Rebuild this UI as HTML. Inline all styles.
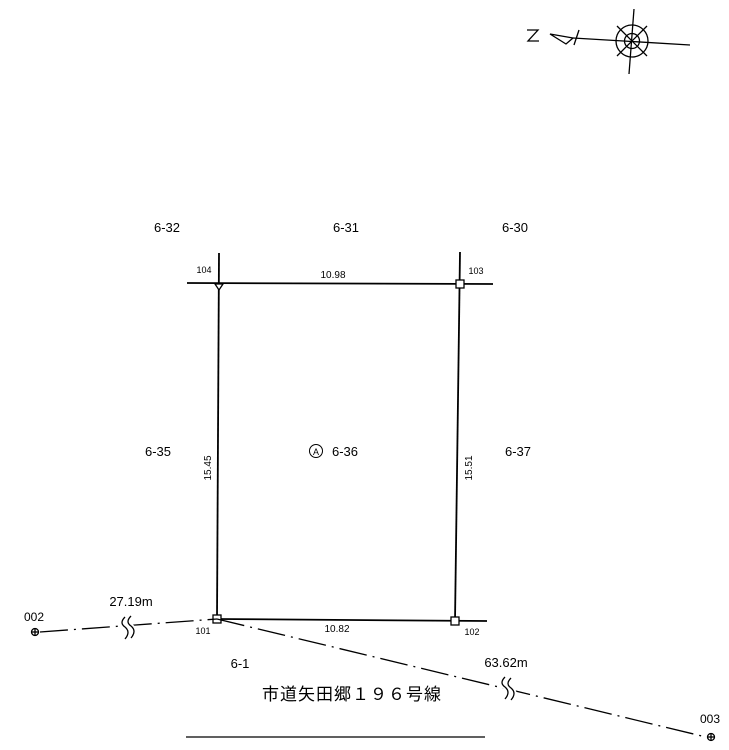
<!DOCTYPE html>
<html><head><meta charset="utf-8"><style>
html,body{margin:0;padding:0;background:#fff;}
svg{display:block;font-family:"Liberation Sans","Noto Sans CJK JP",sans-serif;}
</style></head><body>
<svg width="729" height="750" viewBox="0 0 729 750" xmlns="http://www.w3.org/2000/svg">
<g stroke="#000" fill="none" stroke-width="1.3">
 <path d="M527 30 L538 30 L528 41 L539 41"/>
 <path d="M550 34 L573 38 L566 44 Z"/>
 <line x1="573" y1="38" x2="690" y2="45"/>
 <line x1="579" y1="30" x2="574" y2="45"/>
 <line x1="634" y1="9" x2="629" y2="74"/>
 <circle cx="632" cy="41" r="16"/>
 <circle cx="632" cy="41" r="7.5"/>
 <line x1="617" y1="26" x2="647" y2="56"/>
 <line x1="647" y1="26" x2="617" y2="56"/>
 <g stroke-width="1.8">
 <line x1="187" y1="283" x2="493" y2="284"/>
 <line x1="219" y1="253" x2="217" y2="619"/>
 <line x1="460" y1="252" x2="455" y2="621"/>
 <line x1="217" y1="619" x2="487" y2="621"/>
 </g>
 <path d="M215 284 L223 284 L219 290 Z" fill="#fff"/>
 <rect x="456" y="280" width="8" height="8" fill="#fff"/>
 <rect x="213" y="615" width="8" height="8" fill="#fff"/>
 <rect x="451" y="617" width="8" height="8" fill="#fff"/>
 <path d="M40 632 L217 619" stroke-dasharray="28 6 2 6"/>
 <path d="M217 619 L706 737" stroke-dasharray="28 6 2 6"/>
 <path d="M125 617 q-6 6 0 10 q6 5 0 12 M131 616 q-6 6 0 10 q6 5 0 12" stroke="#fff" stroke-width="5"/>
 <path d="M125 617 q-6 6 0 10 q6 5 0 12 M131 616 q-6 6 0 10 q6 5 0 12"/>
 <path d="M505 677 q-6 6 0 10 q6 5 0 12 M511 678 q-6 6 0 10 q6 5 0 12" stroke="#fff" stroke-width="5"/>
 <path d="M505 677 q-6 6 0 10 q6 5 0 12 M511 678 q-6 6 0 10 q6 5 0 12"/>
 <circle cx="35" cy="632" r="3.5"/><line x1="31" y1="632" x2="39" y2="632"/><line x1="35" y1="628" x2="35" y2="636"/>
 <circle cx="711" cy="737" r="3.5"/><line x1="707" y1="737" x2="715" y2="737"/><line x1="711" y1="733" x2="711" y2="741"/>
 <line x1="186" y1="737" x2="485" y2="737"/>
 <circle cx="316" cy="451" r="6.5" stroke-width="1"/>
</g>
<g fill="#000" font-size="13" text-anchor="middle">
 <text x="167" y="232">6-32</text>
 <text x="346" y="232">6-31</text>
 <text x="515" y="232">6-30</text>
 <text x="158" y="456">6-35</text>
 <text x="518" y="456">6-37</text>
 <text x="345" y="456">6-36</text>
 <text x="316" y="455" font-size="9">A</text>
 <text x="240" y="668">6-1</text>
 <text x="131" y="606">27.19m</text>
 <text x="506" y="667">63.62m</text>
 <text x="34" y="621" font-size="12">002</text>
 <text x="710" y="723" font-size="12">003</text>
 <g font-size="10">
  <text x="333" y="278">10.98</text>
  <text x="337" y="632">10.82</text>
  <text transform="translate(211,468) rotate(-90)">15.45</text>
  <text transform="translate(472,468) rotate(-90)">15.51</text>
 </g>
 <g font-size="9">
  <text x="204" y="273">104</text>
  <text x="476" y="274">103</text>
  <text x="203" y="634">101</text>
  <text x="472" y="635">102</text>
 </g>
 <text x="352" y="700" font-size="17" letter-spacing="1">市道矢田郷１９６号線</text>
</g>
</svg>
</body></html>
